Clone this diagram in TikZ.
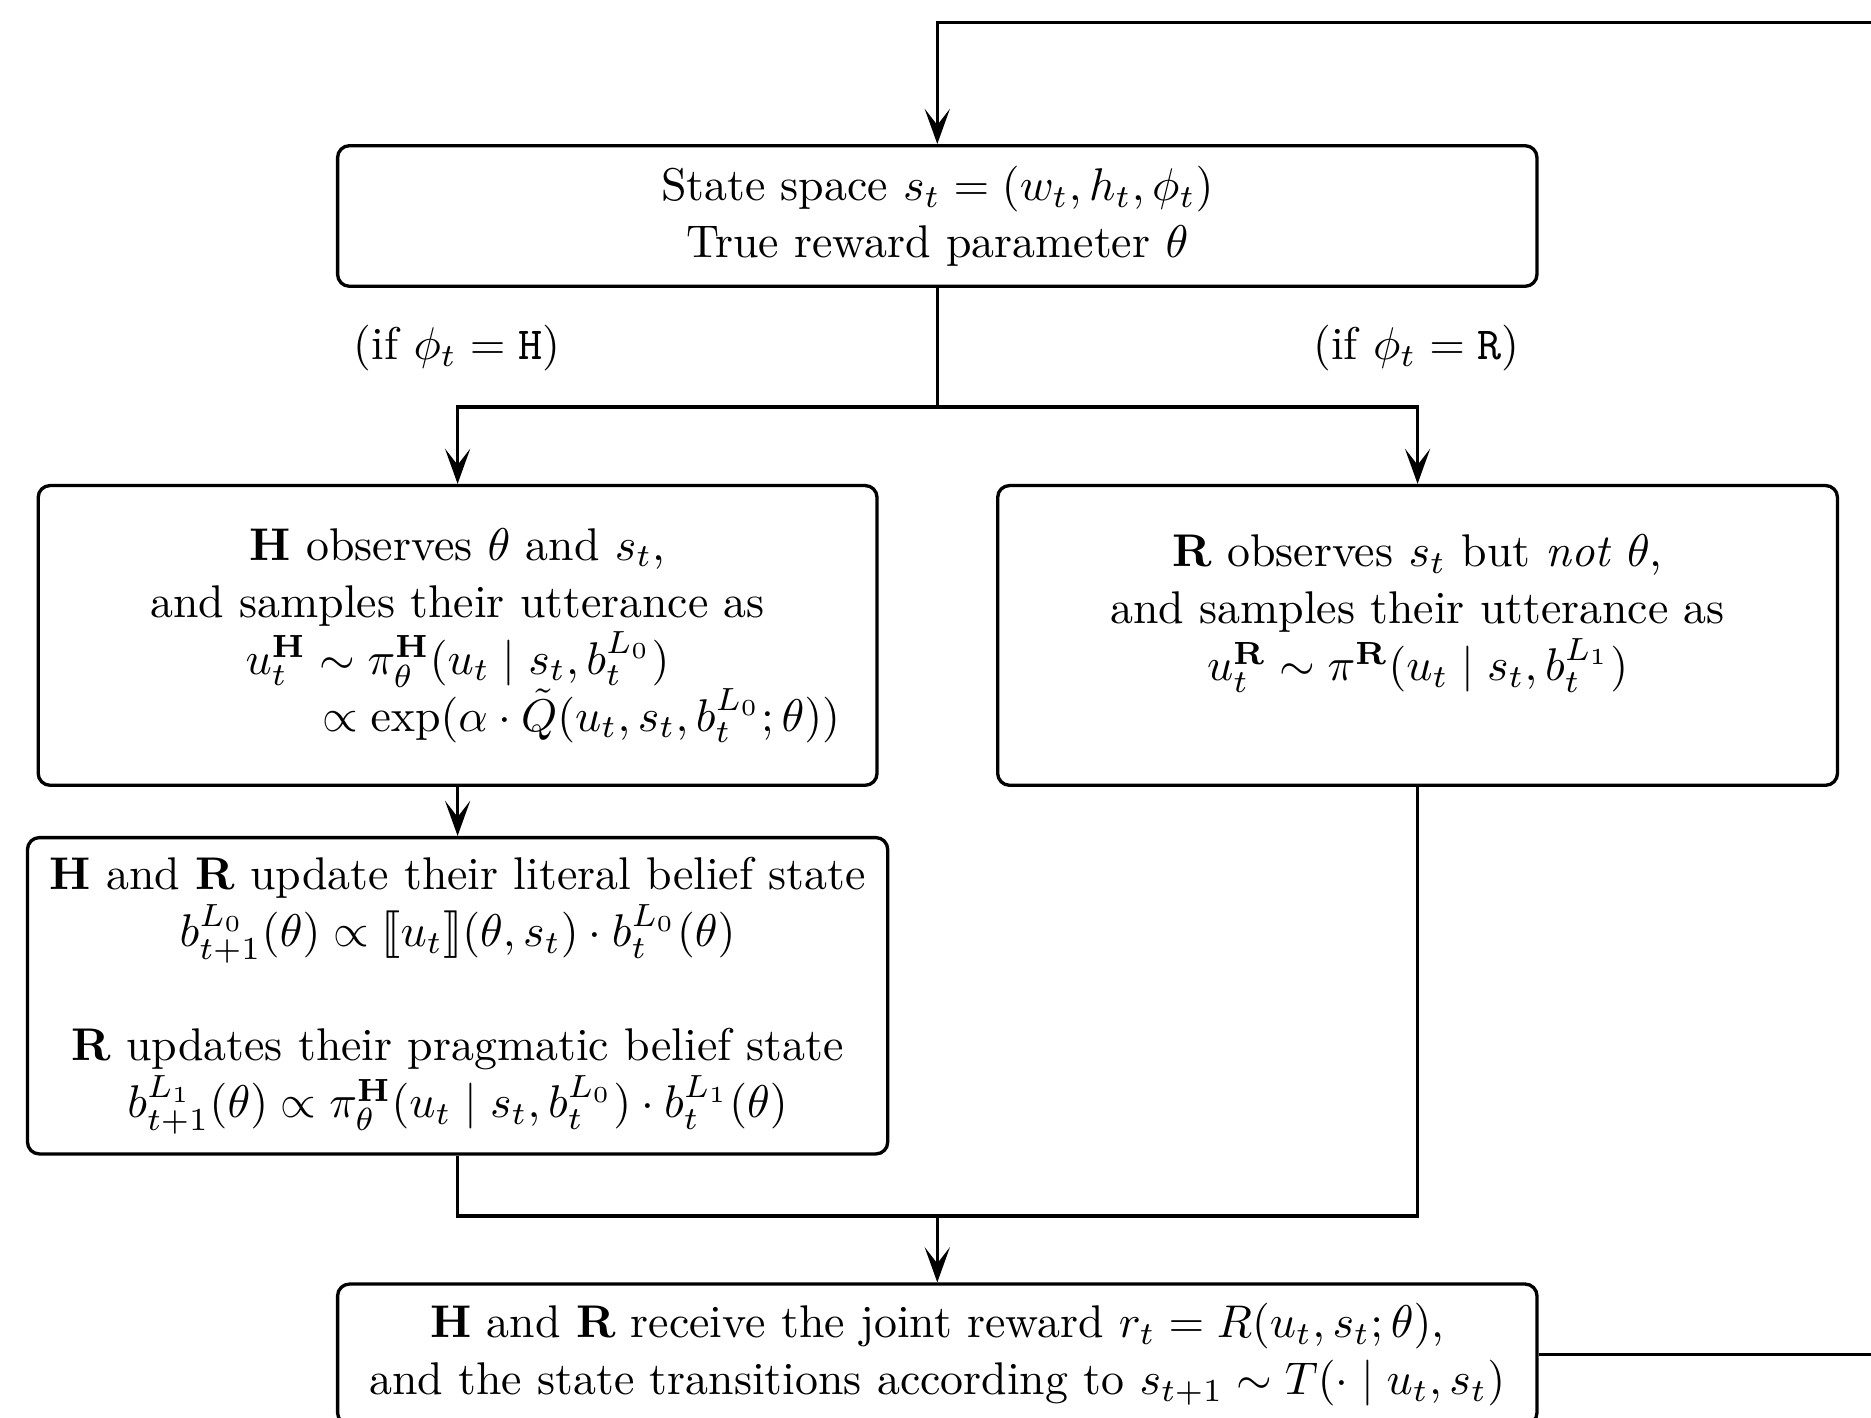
\documentclass[tikz,border=0pt]{standalone}
\usepackage{amsmath, amssymb}
\usepackage{stmaryrd}
\usepackage{tikz}
\usetikzlibrary{calc, arrows.meta}

%math fonts scaled to the exact size
\DeclareFontShape{OML}{cmm}{m}{it}{<-5.5> cmmi5 <5.5-6.5> cmmi6 <6.5-7.5> cmmi7 <7.5-8.5> cmmi8 <8.5-9.5> cmmi9 <9.5-> cmmi10}{\skewchar\font127}
\DeclareFontShape{OMS}{cmsy}{m}{n}{<-5.5> cmsy5 <5.5-6.5> cmsy6 <6.5-7.5> cmsy7 <7.5-8.5> cmsy8 <8.5-9.5> cmsy9 <9.5-> cmsy10}{\skewchar\font48}
\DeclareFontShape{OT1}{cmr}{m}{n}{<-5.5> cmr5 <5.5-6.5> cmr6 <6.5-7.5> cmr7 <7.5-8.5> cmr8 <8.5-9.5> cmr9 <9.5-> cmr10}{}
\DeclareFontShape{OT1}{cmr}{bx}{n}{<-5.5> cmbx5 <5.5-6.5> cmbx6 <6.5-7.5> cmbx7 <7.5-8.5> cmbx8 <8.5-9.5> cmbx9 <9.5-> cmbx10}{}

\tikzset{
	stagebox/.style = {draw, line width = 0.7pt, rounded corners = 2.5pt, align = center, inner sep = 0pt,
		font = \fontsize{9.65pt}{12pt}\selectfont},
	flow/.style = {line width = 0.7pt},
	flowarrow/.style = {line width = 0.7pt, -{Stealth[length = 7.4pt, width = 5.3pt, inset = 3.4pt]}}
}

\begin{document}
\begin{tikzpicture}[x = {(0.2512pt,0)}, y = {(0,-0.2512pt)}]
		%page frame
		\useasboundingbox (0,0) rectangle (1568,1188);
		
		%state of the game
		\node [stagebox, minimum width = 252.5pt, minimum height = 29.6pt] (state) at (785.5,181)
			{State space $s_t = (w_t, h_t, \phi_t)$\\ True reward parameter $\theta$};
		
		%speaker branches
		\node [stagebox, minimum width = 176.6pt, minimum height = 63.1pt] (human) at (383.5,532.5)
			{\textbf{H} observes $\theta$ and $s_t$,\\ and samples their utterance as\\
			 $u_t^{\mathbf{H}} \sim \pi_\theta^{\mathbf{H}}(u_t \mid s_t, b_t^{L_0})$\\
			 \hspace*{52pt}$\propto \exp(\alpha \cdot \tilde{Q}(u_t, s_t, b_t^{L_0}; \theta))$};
		\node [stagebox, minimum width = 176.8pt, minimum height = 63.1pt] (robot) at (1188,532.5)
			{\textbf{R} observes $s_t$ but \emph{not} $\theta$,\\ and samples their utterance as\\
			 $u_t^{\mathbf{R}} \sim \pi^{\mathbf{R}}(u_t \mid s_t, b_t^{L_1})$\\[-4pt] \strut};
		
		%belief updates
		\node [stagebox, minimum width = 181.1pt, minimum height = 66.6pt] (update) at (383.5,834.5)
			{\textbf{H} and \textbf{R} update their literal belief state\\
			 $b_{t+1}^{L_0}(\theta) \propto \llbracket u_t \rrbracket(\theta, s_t) \cdot b_t^{L_0}(\theta)$\\[\baselineskip]
			 \textbf{R} updates their pragmatic belief state\\
			 $b_{t+1}^{L_1}(\theta) \propto \pi_\theta^{\mathbf{H}}(u_t \mid s_t, b_t^{L_0}) \cdot b_t^{L_1}(\theta)$};
		
		%reward and transition
		\node [stagebox, minimum width = 252.5pt, minimum height = 29.6pt] (reward) at (785.5,1135)
			{\textbf{H} and \textbf{R} receive the joint reward $r_t = R(u_t, s_t; \theta)$,\\
			 and the state transitions according to $s_{t+1} \sim T(\cdot \mid u_t, s_t)$};
		
		%branch labels
		\node [font = \fontsize{9.65pt}{12pt}\selectfont] (ifH) at (383,292) {(if $\phi_t = \texttt{H}$)};
		\node [font = \fontsize{9.65pt}{12pt}\selectfont] (ifR) at (1187,292) {(if $\phi_t = \texttt{R}$)};
		
		%junctions
		\coordinate (split) at (785.5,341);
		\coordinate (merge) at (785.5,1019);
		\coordinate (loop) at (1640,19);
		
		%connectors
		\draw [flow] (state.south) -- (split);
		\draw [flowarrow] (split) -| (human.north);
		\draw [flowarrow] (split) -| (robot.north);
		\draw [flowarrow] (human.south) -- (update.north);
		\draw [flow] (update.south) |- (merge);
		\draw [flow] (robot.south) |- (merge);
		\draw [flowarrow] (merge) -- (reward.north);
		\draw [flowarrow] (reward.east) -| (loop) -| (state.north);
	\end{tikzpicture}
\end{document}
